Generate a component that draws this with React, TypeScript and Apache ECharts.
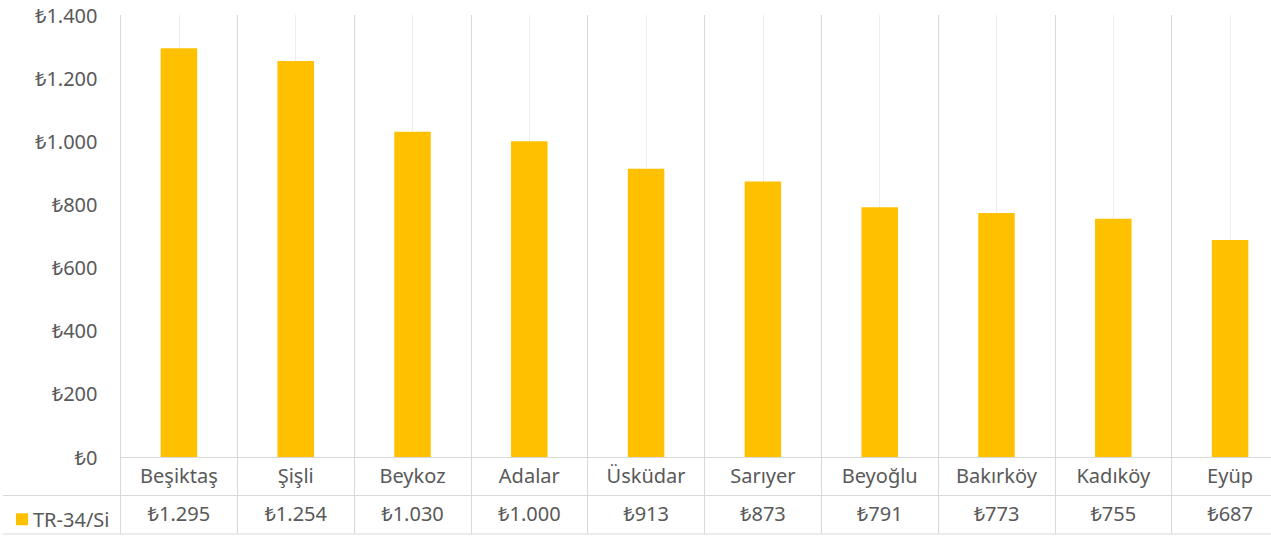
import React, { useEffect, useRef } from "react";
import * as echarts from "echarts";

const categories = ["Beşiktaş", "Şişli", "Beykoz", "Adalar", "Üsküdar", "Sarıyer", "Beyoğlu", "Bakırköy", "Kadıköy", "Eyüp"];
const values = [1295, 1254, 1030, 1000, 913, 873, 791, 773, 755, 687];
const seriesName = "TR-34/Si";
const yMin = 0;
const yMax = 1400;
const yInterval = 200;

const GOLD = "#FFC000";
const TEXT = "#595959";
const BORDER = "#D9D9D9";
const CENTER_LINE = "#EEEEEE";
const FONT = "'Noto Sans', 'Open Sans', sans-serif";
const FS = 20;

const chartW = 1292;
const gridLeft = 120.5;
const gridTop = 15;
const gridWidth = 1168;
const gridHeight = 442;
const rowH = 38.5;

function lira(v: number): string {
  const s = Math.round(v).toString();
  const withDots = s.replace(/\B(?=(\d{3})+(?!\d))/g, ".");
  return "₺" + withDots;
}

export default function App() {
  const ref = useRef<HTMLDivElement>(null);
  useEffect(() => {
    document.body.style.margin = "0";
    if (!ref.current) return;
    const chart = echarts.init(ref.current, undefined, { renderer: "svg" });
    const axisBottom = gridTop + gridHeight;
    chart.setOption({
      animation: false,
      backgroundColor: "#ffffff",
      textStyle: { fontFamily: FONT },
      grid: { left: gridLeft, top: gridTop, width: gridWidth, height: gridHeight, containLabel: false },
      legend: {
        data: [seriesName],
        left: 11,
        top: axisBottom + rowH + rowH / 2 - 10.5,
        icon: "rect",
        itemWidth: 12,
        itemHeight: 12,
        itemGap: 5,
        textStyle: { color: TEXT, fontSize: FS, fontFamily: FONT, lineHeight: 20 },
        selectedMode: false,
      },
      xAxis: [
        {
          type: "category",
          data: categories,
          position: "bottom",
          boundaryGap: true,
          axisLine: { show: true, lineStyle: { color: BORDER, width: 1 } },
          axisTick: { show: true, interval: 0, length: rowH * 2, lineStyle: { color: BORDER, width: 1 } },
          splitLine: { show: true, interval: 0, lineStyle: { color: BORDER, width: 1 } },
          axisLabel: { interval: 0, color: TEXT, fontSize: FS, fontFamily: FONT, margin: 8 },
          z: 3,
        },
        {
          type: "category",
          data: values.map(lira),
          position: "bottom",
          offset: rowH,
          boundaryGap: true,
          axisLine: { show: false },
          axisTick: { show: false },
          splitLine: { show: false },
          axisLabel: { interval: 0, color: TEXT, fontSize: FS, fontFamily: FONT, margin: 8 },
        },
        {
          type: "value",
          min: 0,
          max: categories.length,
          interval: 1,
          show: true,
          position: "top",
          axisLine: { show: false },
          axisTick: { show: false },
          axisLabel: { show: false },
          splitLine: { show: false },
          minorTick: { show: false, splitNumber: 2 },
          minorSplitLine: { show: true, lineStyle: { color: CENTER_LINE, width: 1 } },
          z: 1,
        },
      ],
      yAxis: {
        type: "value",
        min: yMin,
        max: yMax,
        interval: yInterval,
        axisLine: { show: false },
        axisTick: { show: false },
        splitLine: { show: false },
        axisLabel: { color: TEXT, fontSize: FS, fontFamily: FONT, margin: 23, formatter: (v: number) => lira(v) },
      },
      graphic: [
        {
          type: "line",
          shape: { x1: 3, y1: axisBottom + rowH, x2: chartW, y2: axisBottom + rowH },
          style: { stroke: BORDER, lineWidth: 1 },
        },
        {
          type: "line",
          shape: { x1: 3, y1: axisBottom + rowH * 2, x2: chartW, y2: axisBottom + rowH * 2 },
          style: { stroke: BORDER, lineWidth: 1 },
        },
      ],
      series: [
        {
          name: seriesName,
          type: "bar",
          xAxisIndex: 0,
          data: values,
          barWidth: 36.5,
          itemStyle: { color: GOLD },
          z: 5,
        },
      ],
    });
    return () => chart.dispose();
  }, []);
  return (
    <div style={{ width: 1271, height: 540, overflow: "hidden", position: "relative" }}>
      <div ref={ref} style={{ width: chartW, height: 540 }} />
    </div>
  );
}
